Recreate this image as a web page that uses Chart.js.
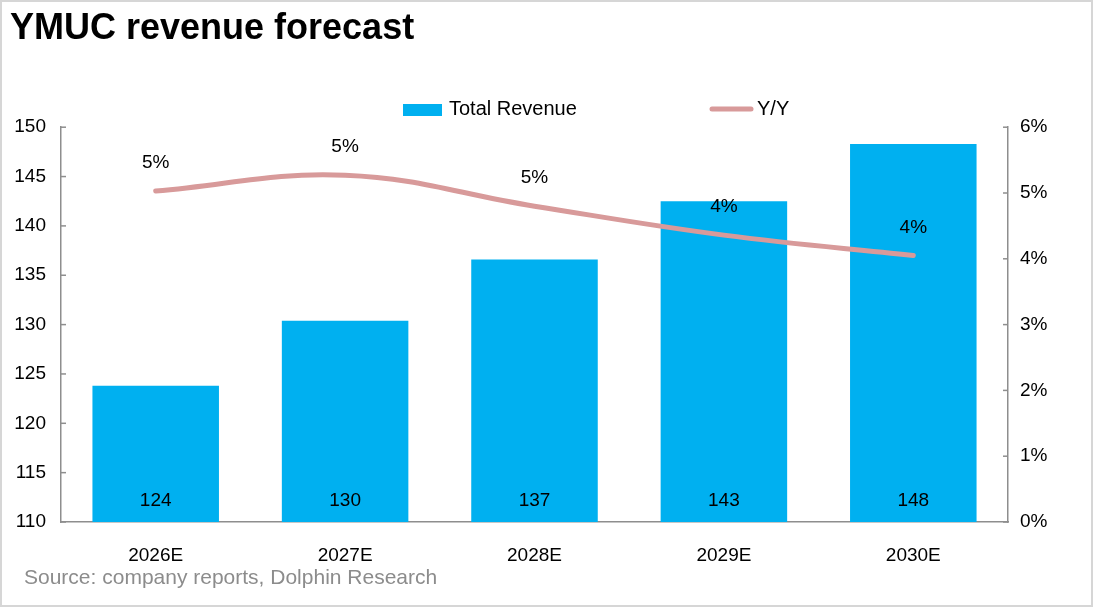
<!DOCTYPE html>
<html>
<head>
<meta charset="utf-8">
<script src="https://cdn.jsdelivr.net/npm/chart.js@4"></script>
<style>
  html, body { margin: 0; padding: 0; background: #fff; }
  #wrap { width: 1093px; height: 607px; }
</style>
</head>
<body>
<div id="wrap"><canvas id="revChart" width="1093" height="607"></canvas></div>
<script>
const years = ['2026E', '2027E', '2028E', '2029E', '2030E'];
const totalRevenue = [123.8, 130.4, 136.6, 142.5, 148.3];
const yoyGrowth = [5.03, 5.27, 4.80, 4.36, 4.05];
const revenueTicks = [110, 115, 120, 125, 130, 135, 140, 145, 150];
const yoyTicks = [0, 1, 2, 3, 4, 5, 6];

const AXIS_GREY = '#8e8e8e';
Chart.defaults.font.family = '"Liberation Sans", Arial, sans-serif';
Chart.defaults.color = '#000';

// labels, inward tick marks, legend, source line and frame
const extras = {
  id: 'extras',
  beforeDraw(chart) {
    const ctx = chart.ctx;
    ctx.save();
    ctx.fillStyle = '#fff';
    ctx.fillRect(0, 0, chart.width, chart.height);
    ctx.strokeStyle = '#d6d6d6';
    ctx.lineWidth = 2;
    ctx.strokeRect(1, 1, chart.width - 2, chart.height - 2);
    ctx.restore();
  },
  afterDatasetsDraw(chart) {
    const ctx = chart.ctx;
    const ds = chart.data.datasets;
    ctx.save();

    // small inward ticks on both value axes
    ctx.strokeStyle = AXIS_GREY;
    ctx.lineWidth = 1.5;
    const yl = chart.scales.y, yr = chart.scales.y1;
    revenueTicks.forEach(v => {
      const py = yl.getPixelForValue(v);
      ctx.beginPath(); ctx.moveTo(yl.right, py); ctx.lineTo(yl.right + 5, py); ctx.stroke();
    });
    yoyTicks.forEach(v => {
      const py = yr.getPixelForValue(v);
      ctx.beginPath(); ctx.moveTo(yr.left, py); ctx.lineTo(yr.left - 5, py); ctx.stroke();
    });

    ctx.font = '19px "Liberation Sans", Arial, sans-serif';
    ctx.fillStyle = '#000';
    ctx.textAlign = 'center';
    ctx.textBaseline = 'middle';
    const barBottom = yl.getPixelForValue(revenueTicks[0]);
    chart.getDatasetMeta(0).data.forEach((bar, i) => {
      ctx.fillText(String(Math.round(totalRevenue[i])), bar.x, barBottom - 21);
    });
    chart.getDatasetMeta(1).data.forEach((pt, i) => {
      ctx.fillText(Math.round(yoyGrowth[i]) + '%', pt.x, pt.y - 28);
    });

    // legend
    ctx.font = '20px "Liberation Sans", Arial, sans-serif';
    ctx.textAlign = 'left';
    ctx.fillStyle = ds[0].backgroundColor;
    ctx.fillRect(403, 104, 39, 12);
    ctx.fillStyle = '#000';
    ctx.fillText(ds[0].label, 449, 109);
    ctx.strokeStyle = ds[1].borderColor;
    ctx.lineWidth = 5;
    ctx.lineCap = 'round';
    ctx.beginPath(); ctx.moveTo(712, 109); ctx.lineTo(751, 109); ctx.stroke();
    ctx.fillText(ds[1].label, 757, 109);

    // source
    ctx.font = '21px "Liberation Sans", Arial, sans-serif';
    ctx.fillStyle = '#8c8c8c';
    ctx.fillText('Source: company reports, Dolphin Research', 24, 578);
    ctx.restore();
  }
};

const ctx = document.getElementById('revChart').getContext('2d');

const revChart = new Chart(ctx,
  {
    data:
    {
      labels: years,
      datasets:
        [{
          type: 'bar',
          label: 'Total Revenue',
          data: totalRevenue,
          backgroundColor: '#00B0F0',
          borderWidth: 0,
          categoryPercentage: 0.668,
          barPercentage: 1,
          yAxisID: 'y',
          order: 2
        },
        {
          type: 'line',
          label: 'Y/Y',
          data: yoyGrowth,
          borderColor: '#D89A9A',
          borderWidth: 5,
          borderCapStyle: 'round',
          tension: 0.4,
          pointRadius: 0,
          fill: false,
          yAxisID: 'y1',
          order: 1
        }]
    },
    options:
    {
      responsive: false,
      animation: false,
      layout: { padding: { left: 10, right: 0, top: 0, bottom: 0 } },
      scales:
      {
        x:
        {
          grid: { display: false, drawTicks: false },
          border: { color: AXIS_GREY, width: 1.5 },
          ticks: { font: { size: 19 }, padding: 22, maxRotation: 0, color: '#000' },
          afterFit(scale) { scale.height = 85; }
        },
        y:
        {
          position: 'left',
          min: revenueTicks[0],
          max: revenueTicks[revenueTicks.length - 1],
          grid: { display: false, drawTicks: false },
          border: { color: AXIS_GREY, width: 1.5 },
          ticks: { stepSize: 5, padding: 15, font: { size: 19 }, color: '#000' },
          afterFit(scale) { scale.width = 51; }
        },
        y1:
        {
          position: 'right',
          min: yoyTicks[0],
          max: yoyTicks[yoyTicks.length - 1],
          grid: { display: false, drawTicks: false },
          border: { color: AXIS_GREY, width: 1.5 },
          ticks:
          {
            stepSize: 1,
            padding: 12,
            font: { size: 19 },
            color: '#000',
            callback: v => v + '%'
          },
          afterFit(scale) { scale.width = 85; }
        }
      },
      plugins:
      {
        legend: { display: false },
        tooltip: { enabled: false },
        title:
        {
          display: true,
          text: 'YMUC revenue forecast',
          align: 'start',
          color: '#000',
          font: { size: 36, weight: 'bold' },
          padding: { top: 7, bottom: 77 }
        }
      }
    },
    plugins: [extras]
  });
</script>
</body>
</html>
